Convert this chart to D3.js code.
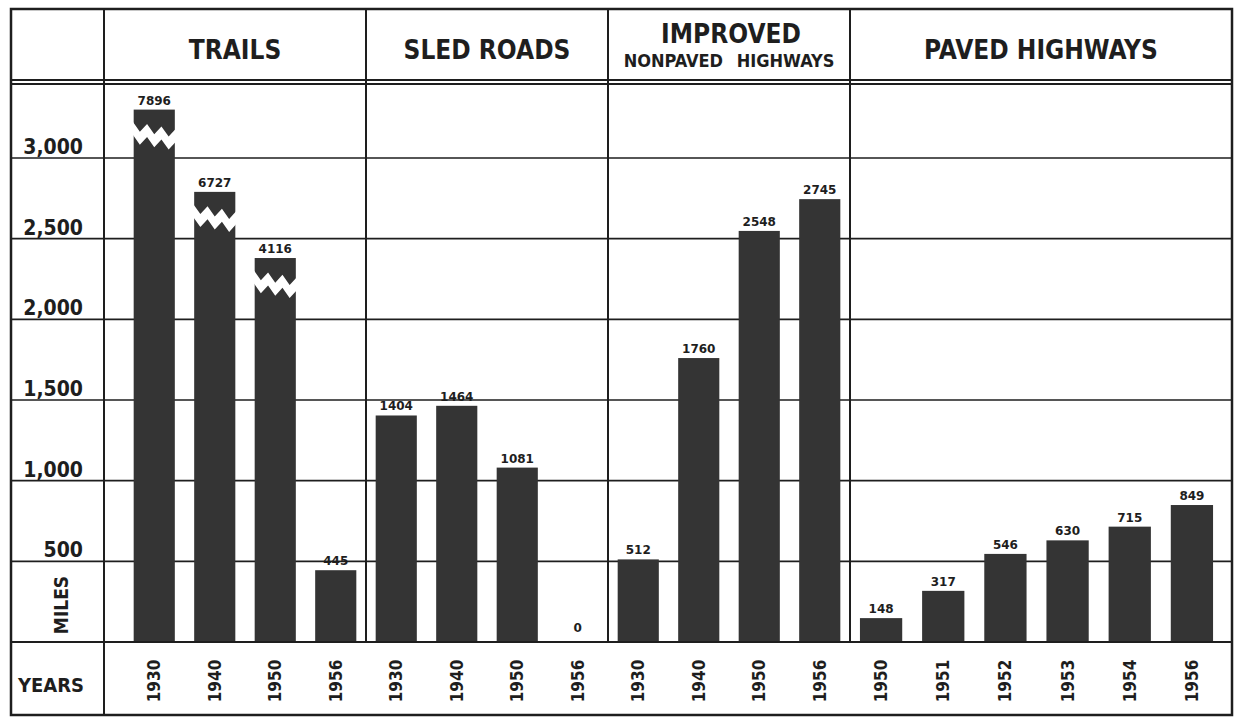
<!DOCTYPE html>
<html>
<head>
<meta charset="utf-8">
<script src="https://cdn.jsdelivr.net/npm/d3@7"></script>
<style>
  body { margin: 0; background: #fff; }
  svg { display: block; }
  text { fill: #1e1e1e; font-family: "DejaVu Sans Condensed", "DejaVu Sans", sans-serif; }
</style>
</head>
<body>
<div id="chart"></div>
<script>
// data
const sectionNames = ["TRAILS", "SLED ROADS", "IMPROVED", "PAVED HIGHWAYS"];
const trailYears = ["1930", "1940", "1950", "1956"];
const trailMiles = [7896, 6727, 4116, 445];
const trailDrawn = [3300, 2790, 2380, 445]; // tall bars are broken and drawn shorter
const sledYears = ["1930", "1940", "1950", "1956"];
const sledMiles = [1404, 1464, 1081, 0];
const improvedYears = ["1930", "1940", "1950", "1956"];
const improvedMiles = [512, 1760, 2548, 2745];
const pavedYears = ["1950", "1951", "1952", "1953", "1954", "1956"];
const pavedMiles = [148, 317, 546, 630, 715, 849];
const yTicks = [500, 1000, 1500, 2000, 2500, 3000];

const width = 1236, height = 717;
const frameL = 11, frameR = 1232, frameT = 9, frameB = 715;
const labelCol = 104;
const base = 642;
const ink = "#1e1e1e", barColor = "#343434";

const svg = d3.select("#chart")
  .append("svg")
  .attr("width", width)
  .attr("height", height);

const y = d3.scaleLinear().domain([0, 3000]).range([base, 158]);

const sections = [
  { name: sectionNames[0], years: trailYears, miles: trailMiles, drawn: trailDrawn, range: [124, 366], span: [104, 366] },
  { name: sectionNames[1], years: sledYears, miles: sledMiles, drawn: sledMiles, range: [366, 608], span: [366, 608] },
  { name: sectionNames[2], years: improvedYears, miles: improvedMiles, drawn: improvedMiles, range: [608, 850], span: [608, 850] },
  { name: sectionNames[3], years: pavedYears, miles: pavedMiles, drawn: pavedMiles, range: [850, 1223], span: [850, 1232] }
];

// gridlines
svg.append("g")
  .selectAll("line")
  .data(yTicks)
  .join("line")
  .attr("x1", frameL).attr("x2", frameR)
  .attr("y1", d => y(d)).attr("y2", d => y(d))
  .style("stroke", ink)
  .style("stroke-width", 1.6);

// bars
sections.forEach(s => {
  const x = d3.scaleBand()
    .domain(s.years)
    .range(s.range)
    .paddingInner(0.32)
    .paddingOuter(0.16);

  const rows = s.years.map((yr, i) => ({ year: yr, miles: s.miles[i], drawn: s.drawn[i] }));
  const g = svg.append("g");

  g.selectAll("rect")
    .data(rows)
    .join("rect")
    .attr("x", d => x(d.year))
    .attr("width", x.bandwidth())
    .attr("y", d => y(d.drawn))
    .attr("height", d => y(0) - y(d.drawn))
    .style("fill", barColor);

  // white zigzag break on bars that go off the scale
  g.selectAll("path.break")
    .data(rows.filter(d => d.miles > d.drawn))
    .join("path")
    .attr("class", "break")
    .attr("d", d => {
      const x0 = x(d.year) - 1, x1 = x(d.year) + x.bandwidth() + 1;
      const n = 6, dx = (x1 - x0) / n, t = y(d.drawn);
      const upper = d3.range(n + 1).map(i => [x0 + i * dx, t + 12 + (i % 2 ? 9 : 0) + i * 1.2]);
      const lower = upper.map(p => [p[0], p[1] + 13]).reverse();
      return d3.line()(upper.concat(lower)) + "Z";
    })
    .style("fill", "#fff");

  g.selectAll("text.val")
    .data(rows)
    .join("text")
    .attr("class", "val")
    .attr("x", d => x(d.year) + x.bandwidth() / 2)
    .attr("y", d => y(d.drawn) - (d.drawn === 0 ? 10 : 5))
    .attr("text-anchor", "middle")
    .style("font-family", "'DejaVu Sans', sans-serif")
    .style("font-weight", "bold")
    .style("font-size", "12px")
    .text(d => String(d.miles));

  g.selectAll("text.year")
    .data(rows)
    .join("text")
    .attr("class", "year")
    .attr("transform", d => `translate(${x(d.year) + x.bandwidth() / 2},681) rotate(-90)`)
    .attr("text-anchor", "middle")
    .attr("dominant-baseline", "central")
    .style("font-weight", "bold")
    .style("font-size", "17px")
    .text(d => d.year);
});

// frame and rules
const rules = svg.append("g").style("stroke", ink).style("fill", "none");
rules.append("rect")
  .attr("x", frameL).attr("y", frameT)
  .attr("width", frameR - frameL).attr("height", frameB - frameT)
  .style("stroke-width", 2.5);
[80, 84].forEach(v => {
  rules.append("line").attr("x1", frameL).attr("x2", frameR).attr("y1", v).attr("y2", v).style("stroke-width", 2);
});
rules.append("line").attr("x1", frameL).attr("x2", frameR).attr("y1", base).attr("y2", base).style("stroke-width", 2);
rules.append("line").attr("x1", labelCol).attr("x2", labelCol).attr("y1", frameT).attr("y2", frameB).style("stroke-width", 2);
rules.selectAll("line.div")
  .data(sections.slice(1))
  .join("line")
  .attr("class", "div")
  .attr("x1", d => d.span[0]).attr("x2", d => d.span[0])
  .attr("y1", frameT).attr("y2", base)
  .style("stroke-width", 2);

// section headers
sections.forEach(s => {
  const cx = (s.span[0] + s.span[1]) / 2;
  if (s.name === "IMPROVED") {
    svg.append("text").attr("x", cx + 2).attr("y", 43)
      .attr("text-anchor", "middle").style("font-weight", "bold").style("font-size", "26px").text("IMPROVED");
    svg.append("text").attr("x", cx).attr("y", 67)
      .attr("text-anchor", "middle").style("font-weight", "bold").style("font-size", "18px").style("word-spacing", "8px")
      .text("NONPAVED HIGHWAYS");
  } else {
    svg.append("text").attr("x", cx).attr("y", 59)
      .attr("text-anchor", "middle").style("font-weight", "bold").style("font-size", "26px")
      .text(s.name);
  }
});

// y tick labels
svg.append("g")
  .selectAll("text")
  .data(yTicks)
  .join("text")
  .attr("x", 83)
  .attr("y", d => y(d) - 4)
  .attr("text-anchor", "end")
  .style("font-weight", "bold")
  .style("font-size", "21px")
  .text(d => d3.format(",")(d));

svg.append("text")
  .attr("transform", "translate(61,605) rotate(-90)")
  .attr("text-anchor", "middle")
  .attr("dominant-baseline", "central")
  .style("font-weight", "bold")
  .style("font-size", "19px")
  .text("MILES");

svg.append("text")
  .attr("x", 18).attr("y", 692)
  .style("font-weight", "bold")
  .style("font-size", "20px")
  .text("YEARS");
</script>
</body>
</html>
